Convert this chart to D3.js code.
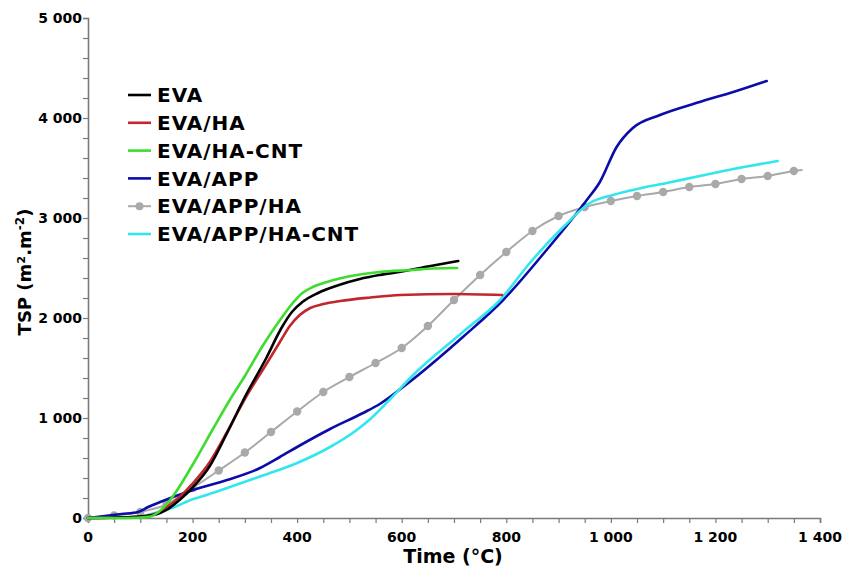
<!DOCTYPE html>
<html><head><meta charset="utf-8">
<script src="https://cdn.jsdelivr.net/npm/d3@7"></script>
<style>body{margin:0;background:#fff}svg{display:block}</style>
</head><body>
<svg id="chart" width="843" height="570"></svg>
<script>
// ---- data ----
const seriesNames = ["EVA", "EVA/HA", "EVA/HA-CNT", "EVA/APP", "EVA/APP/HA", "EVA/APP/HA-CNT"];
const seriesColors = ["#000000", "#c0272d", "#3ddc2f", "#0c0ca8", "#a9a9a9", "#33e6ee"];

const evaTime = [0, 50, 100, 130, 150, 175, 201, 233, 266, 300, 340, 370, 390, 410, 440, 480, 520, 558, 600, 650, 708];
const evaTSP  = [0, 5, 15, 35, 80, 180, 310, 520, 850, 1210, 1590, 1900, 2060, 2160, 2250, 2330, 2390, 2430, 2465, 2515, 2570];

const evaHaTime = [0, 50, 100, 130, 151, 201, 233, 266, 300, 340, 367, 386, 405, 425, 450, 482, 540, 597, 700, 792];
const evaHaTSP  = [0, 3, 15, 45, 110, 350, 560, 860, 1190, 1530, 1760, 1920, 2030, 2100, 2140, 2170, 2205, 2230, 2240, 2230];

const evaHaCntTime = [0, 50, 100, 120, 135, 157, 201, 240, 270, 300, 335, 370, 390, 410, 430, 457, 514, 558, 620, 660, 706];
const evaHaCntTSP  = [0, 0, 5, 15, 60, 180, 540, 900, 1170, 1420, 1730, 2000, 2140, 2250, 2310, 2360, 2430, 2460, 2480, 2495, 2500];

const evaAppTime = [0, 48, 64, 96, 115, 138, 201, 266, 329, 367, 400, 463, 526, 558, 610, 717, 794, 877, 954, 979, 1011, 1042, 1094, 1170, 1234, 1298];
const evaAppTSP  = [0, 30, 40, 60, 110, 160, 280, 380, 500, 610, 710, 890, 1050, 1140, 1340, 1810, 2180, 2680, 3180, 3360, 3710, 3900, 4030, 4160, 4260, 4370];

const evaAppHaTime = [0, 50, 100, 150, 200, 250, 300, 350, 400, 450, 500, 550, 600, 650, 700, 750, 800, 850, 900, 950, 1000, 1050, 1100, 1150, 1200, 1250, 1300, 1350, 1365];
const evaAppHaTSP  = [0, 25, 60, 135, 300, 475, 655, 860, 1065, 1260, 1410, 1550, 1700, 1920, 2180, 2430, 2660, 2870, 3020, 3110, 3170, 3220, 3260, 3310, 3340, 3390, 3420, 3470, 3480];

const evaAppHaCntTime = [0, 50, 96, 128, 166, 201, 224, 266, 329, 400, 463, 514, 540, 580, 620, 717, 788, 845, 909, 960, 1004, 1050, 1107, 1170, 1234, 1319];
const evaAppHaCntTSP  = [0, 5, 10, 50, 110, 190, 225, 300, 415, 550, 710, 880, 990, 1200, 1420, 1860, 2180, 2550, 2910, 3150, 3230, 3290, 3350, 3420, 3490, 3570];

const xTicks = [0, 200, 400, 600, 800, 1000, 1200, 1400];
const yTicks = [0, 1000, 2000, 3000, 4000, 5000];

const seriesTimes = [evaTime, evaHaTime, evaHaCntTime, evaAppTime, evaAppHaTime, evaAppHaCntTime];
const seriesValues = [evaTSP, evaHaTSP, evaHaCntTSP, evaAppTSP, evaAppHaTSP, evaAppHaCntTSP];

// ---- chart ----
const svg = d3.select("#chart");
const mLeft = 88, mRight = 820, mTop = 18, mBottom = 518;
const x = d3.scaleLinear().domain([0, 1400]).range([mLeft, mRight]);
const y = d3.scaleLinear().domain([0, 5000]).range([mBottom, mTop]);
const fmt = v => d3.format(",")(v).replace(/,/g, " ");
const axisColor = "#7a7a7a";
const font = "'DejaVu Sans', Verdana, sans-serif";

// x axis
const xAxis = svg.append("g").attr("transform", `translate(0,${mBottom})`)
  .call(d3.axisBottom(x).tickValues(d3.range(0, 1401, 50)).tickSize(5).tickFormat(""));
xAxis.select(".domain").attr("stroke", axisColor).attr("stroke-width", 1.6);
xAxis.selectAll(".tick line").attr("stroke", axisColor).attr("stroke-width", 1.2);
svg.append("g").selectAll("text").data(xTicks).join("text")
  .attr("x", d => x(d)).attr("y", mBottom + 24)
  .attr("text-anchor", "middle")
  .attr("font-family", font).attr("font-weight", "bold").attr("font-size", 14)
  .text(fmt);

// y axis
const yAxis = svg.append("g").attr("transform", `translate(${mLeft},0)`)
  .call(d3.axisLeft(y).tickValues(d3.range(0, 5001, 200)).tickSize(5).tickFormat(""));
yAxis.select(".domain").attr("stroke", axisColor).attr("stroke-width", 1.6);
yAxis.selectAll(".tick line").attr("stroke", axisColor).attr("stroke-width", 1.2);
svg.append("g").selectAll("text").data(yTicks).join("text")
  .attr("x", mLeft - 6).attr("y", d => y(d)).attr("dy", "0.36em")
  .attr("text-anchor", "end")
  .attr("font-family", font).attr("font-weight", "bold").attr("font-size", 14)
  .text(fmt);

// axis titles
svg.append("text").attr("x", 453).attr("y", 563).attr("text-anchor", "middle")
  .attr("font-family", font).attr("font-weight", "bold").attr("font-size", 19)
  .text("Time (°C)");
const yt = svg.append("text").attr("transform", "translate(31,272) rotate(-90)")
  .attr("text-anchor", "middle")
  .attr("font-family", font).attr("font-weight", "bold").attr("font-size", 18);
yt.append("tspan").text("TSP (m².m");
yt.append("tspan").attr("dy", -7).attr("font-size", 12).text("-2");
yt.append("tspan").attr("dy", 7).text(")");

// lines
const line = d3.line().x(d => x(d[0])).y(d => y(d[1])).curve(d3.curveMonotoneX);
const plot = svg.append("g");
const order = [4, 3, 5, 1, 0, 2];
order.forEach(i => {
  const pts = seriesTimes[i].map((t, k) => [t, seriesValues[i][k]]);
  plot.append("path").datum(pts)
    .attr("fill", "none").attr("stroke", seriesColors[i])
    .attr("stroke-width", i === 4 ? 2 : 2.6)
    .attr("stroke-linejoin", "round").attr("stroke-linecap", "round")
    .attr("d", line);
  if (i === 4) {
    plot.append("g").selectAll("circle").data(pts.filter(p => p[0] % 50 === 0)).join("circle")
      .attr("cx", d => x(d[0])).attr("cy", d => y(d[1])).attr("r", 4.2)
      .attr("fill", seriesColors[i]);
  }
});

// legend
const leg = svg.append("g");
seriesNames.forEach((name, i) => {
  const cy = 95 + i * 27.8;
  leg.append("line").attr("x1", 128).attr("x2", 151).attr("y1", cy).attr("y2", cy)
    .attr("stroke", seriesColors[i]).attr("stroke-width", i === 4 ? 2 : 2.6);
  if (i === 4) leg.append("circle").attr("cx", 139.5).attr("cy", cy).attr("r", 4).attr("fill", seriesColors[i]);
  leg.append("text").attr("x", 157).attr("y", cy).attr("dy", "0.36em")
    .attr("font-family", font).attr("font-weight", "bold").attr("font-size", 20)
    .attr("letter-spacing", 1)
    .text(name);
});
</script>
</body></html>
